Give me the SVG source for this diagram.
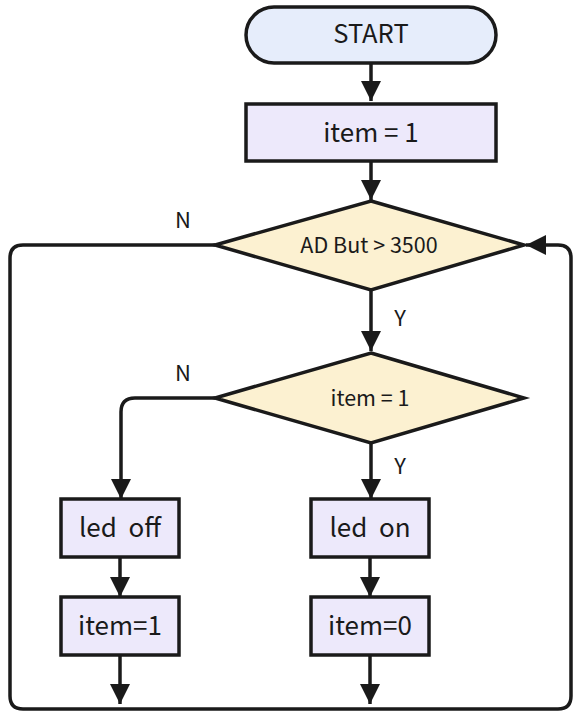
<svg xmlns="http://www.w3.org/2000/svg" width="577" height="716" viewBox="0 0 577 716">
<defs>
<marker id="ah" viewBox="0 0 20 20" refX="20" refY="10" markerWidth="20" markerHeight="20" markerUnits="userSpaceOnUse" orient="auto">
<path d="M0,0 L20,10 L0,20 Z" fill="#1a1a1a"/>
</marker>
<style>
.t{font-family:"Noto Sans CJK SC","Noto Sans",sans-serif;fill:#1a1a1a;text-anchor:middle}
.lbl{font-family:"Noto Sans CJK SC","Noto Sans",sans-serif;fill:#1a1a1a;font-size:22px;text-anchor:middle}
.box{fill:#ede9fb;stroke:#1a1a1a;stroke-width:3.5}
.dia{fill:#fcf1d1;stroke:#1a1a1a;stroke-width:3.5}
.term{fill:#e6edfb;stroke:#1a1a1a;stroke-width:3.5}
.c{fill:none;stroke:#1a1a1a;stroke-width:3.5;marker-end:url(#ah)}
</style>
</defs>
<rect width="577" height="716" fill="#ffffff"/>
<g id="connectors">
<path class="c" d="M371,63 V101"/>
<path class="c" d="M371,162 V200"/>
<path class="c" d="M371,290 V351"/>
<path class="c" d="M371,443 V499"/>
<path class="c" d="M215,398 H135 Q121,398 121,412 V499"/>
<path class="c" d="M120,557 V597"/>
<path class="c" d="M370,557 V597"/>
<path class="c" d="M120,655 V704"/>
<path class="c" d="M370,655 V704"/>
<path class="c" d="M215,245 H23 Q10,245 10,258 V696 Q10,709 23,709 H558 Q571,709 571,696 V258 Q571,245 558,245 H526"/>
<text class="lbl" x="183" y="228">N</text>
<text class="lbl" x="400" y="326">Y</text>
<text class="lbl" x="183" y="381">N</text>
<text class="lbl" x="400" y="474">Y</text>
</g>
<g id="start">
<rect class="term" x="246" y="7" width="250" height="56" rx="28"/>
<text class="t" x="371" y="43" font-size="25.5">START</text>
</g>
<g id="init">
<rect class="box" x="246" y="104" width="250" height="57"/>
<text class="t" x="371" y="142" font-size="26">item = 1</text>
</g>
<g id="cond1">
<polygon class="dia" points="371,201 524,245 371,290 215,245"/>
<text class="t" x="369" y="253" font-size="21.5">AD But &gt; 3500</text>
</g>
<g id="cond2">
<polygon class="dia" points="371,353 524,398 371,443 215,398"/>
<text class="t" x="370" y="406" font-size="21.5">item = 1</text>
</g>
<g id="ledoff">
<rect class="box" x="61" y="499" width="118" height="58"/>
<text class="t" x="120" y="537" font-size="26" xml:space="preserve">led  off</text>
</g>
<g id="ledon">
<rect class="box" x="311" y="499" width="118" height="58"/>
<text class="t" x="370" y="537" font-size="26" xml:space="preserve">led  on</text>
</g>
<g id="item1">
<rect class="box" x="61" y="597" width="118" height="58"/>
<text class="t" x="120" y="635" font-size="26">item=1</text>
</g>
<g id="item0">
<rect class="box" x="311" y="597" width="118" height="58"/>
<text class="t" x="370" y="635" font-size="26">item=0</text>
</g>
</svg>
